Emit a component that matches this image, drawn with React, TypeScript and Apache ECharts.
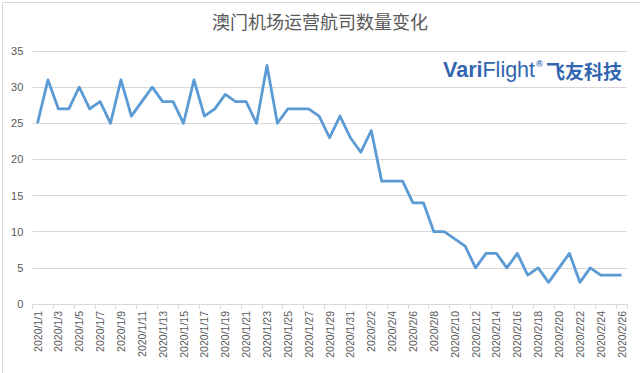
import React, { useEffect, useRef } from "react";
import * as echarts from "echarts";

const titleText = "澳门机场运营航司数量变化";
const janDays = Array.from({ length: 31 }, (_, i) => `2020/1/${i + 1}`);
const febDays = Array.from({ length: 26 }, (_, i) => `2020/2/${i + 1}`);
const categories = [...janDays, ...febDays];
const airlineCounts = [
  25, 31, 27, 27, 30, 27, 28, 25, 31, 26, 28, 30, 28, 28, 25, 31, 26, 27, 29, 28, 28, 25, 33, 25, 27, 27, 27, 26, 23, 26, 23,
  21, 24, 17, 17, 17, 14, 14, 10, 10, 9, 8, 5, 7, 7, 5, 7, 4, 5, 3, 5, 7, 3, 5, 4, 4, 4,
];
const yTicks = { min: 0, max: 35, interval: 5 };

export default function App() {
  const ref = useRef<HTMLDivElement>(null);
  useEffect(() => {
    if (!ref.current) return;
    const chart = echarts.init(ref.current, undefined, { renderer: "svg" });
    const grey = "#595959";
    const blue = "#3465b0";
    chart.setOption({
      animation: false,
      backgroundColor: "#ffffff",
      title: {
        text: titleText,
        left: "center",
        top: 7,
        textStyle: {
          fontFamily: "Noto Sans CJK SC",
          fontSize: 18,
          fontWeight: "normal",
          color: grey,
        },
      },
      grid: { left: 32.3, right: 13.2, top: 51, bottom: 69 },
      xAxis: {
        type: "category",
        data: categories,
        boundaryGap: true,
        axisLine: { lineStyle: { color: "#d9d9d9", width: 1 } },
        axisTick: { show: true, interval: 1, length: 5, lineStyle: { color: "#d9d9d9" } },
        axisLabel: {
          interval: 1,
          rotate: 90,
          margin: 7,
          fontSize: 10.5,
          color: grey,
          fontFamily: "Liberation Sans",
        },
      },
      yAxis: {
        type: "value",
        min: yTicks.min,
        max: yTicks.max,
        interval: yTicks.interval,
        axisLine: { show: false },
        axisTick: { show: false },
        axisLabel: { fontSize: 11, color: grey, margin: 9, fontFamily: "Liberation Sans" },
        splitLine: { lineStyle: { color: "#d9d9d9", width: 1 } },
      },
      series: [
        {
          type: "line",
          data: airlineCounts,
          showSymbol: false,
          symbol: "none",
          lineStyle: { color: "#5b9bd5", width: 2.8, join: "round" },
          itemStyle: { color: "#5b9bd5" },
        },
      ],
      graphic: [
        {
          type: "rect",
          left: 0,
          top: 0,
          shape: { x: 0.5, y: 0.5, width: 639, height: 372 },
          style: { fill: "none", stroke: "#d9d9d9", lineWidth: 1 },
          silent: true,
        },
        {
          type: "text",
          x: 622,
          y: 70,
          style: {
            text: "{a|Vari}{b|Flight}{c|®} {d|飞友科技}",
            align: "right",
            verticalAlign: "middle",
            rich: {
              a: { fontFamily: "Liberation Sans", fontWeight: "bold", fontSize: 21.5, fill: blue },
              b: { fontFamily: "Liberation Sans", fontWeight: "normal", fontSize: 21.5, fill: blue },
              c: { fontFamily: "Liberation Sans", fontWeight: "bold", fontSize: 9, fill: blue, verticalAlign: "top", padding: [0, 0, 10, 1] },
              d: { fontFamily: "Noto Sans CJK SC", fontWeight: "bold", fontSize: 19, fill: blue },
            },
          },
        },
      ],
    });
    return () => chart.dispose();
  }, []);
  return (
    <div
      ref={ref}
      style={{ position: "fixed", left: 0, top: 0, width: 640, height: 373 }}
    />
  );
}
